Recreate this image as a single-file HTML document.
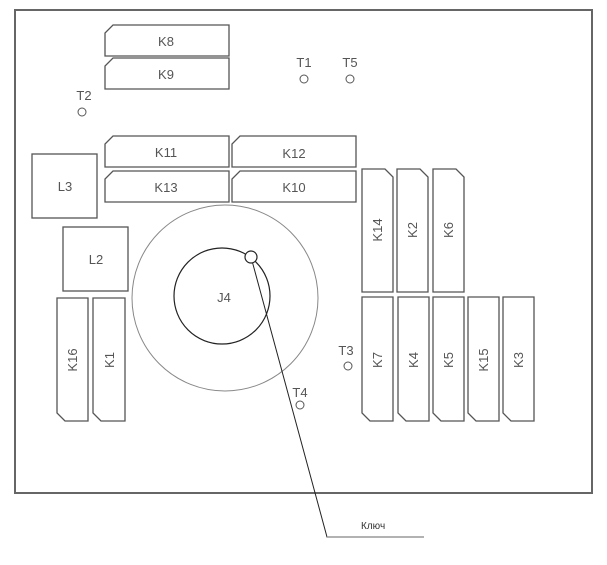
<!DOCTYPE html>
<html><head><meta charset="utf-8"><style>
html,body{margin:0;padding:0;background:#fff;}
svg{display:block;}
text{font-family:"Liberation Sans","DejaVu Sans",sans-serif;fill:#555;font-size:13px;}
</style></head><body>
<svg width="607" height="565" viewBox="0 0 607 565" xmlns="http://www.w3.org/2000/svg">
<rect x="15" y="10" width="577" height="483" fill="none" stroke="#666" stroke-width="2"/>
<g fill="none" stroke="#555" stroke-width="1.3">
<!-- horizontal relays, chamfer top-left -->
<path d="M113,25 H229 V56 H105 V33 Z"/>
<path d="M113,58 H229 V89 H105 V66 Z"/>
<path d="M113,136 H229 V167 H105 V144 Z"/>
<path d="M240,136 H356 V167 H232 V144 Z"/>
<path d="M113,171 H229 V202 H105 V179 Z"/>
<path d="M240,171 H356 V202 H232 V179 Z"/>
<rect x="32" y="154" width="65" height="64"/>
<rect x="63" y="227" width="65" height="64"/>
<!-- vertical left, chamfer bottom-left -->
<path d="M57,298 H88 V421 H65 L57,413 Z"/>
<path d="M93,298 H125 V421 H101 L93,413 Z"/>
<!-- right top, chamfer top-right -->
<path d="M362,169 H385 L393,177 V292 H362 Z"/>
<path d="M397,169 H420 L428,177 V292 H397 Z"/>
<path d="M433,169 H456 L464,177 V292 H433 Z"/>
<!-- right bottom, chamfer bottom-left -->
<path d="M362,297 H393 V421 H370 L362,413 Z"/>
<path d="M398,297 H429 V421 H406 L398,413 Z"/>
<path d="M433,297 H464 V421 H441 L433,413 Z"/>
<path d="M468,297 H499 V421 H476 L468,413 Z"/>
<path d="M503,297 H534 V421 H511 L503,413 Z"/>
</g>
<circle cx="225" cy="298" r="93" fill="none" stroke="#888" stroke-width="1"/>
<circle cx="222" cy="296" r="48" fill="none" stroke="#222" stroke-width="1.2"/>
<g fill="none" stroke="#555" stroke-width="1">
<circle cx="304" cy="79" r="4"/><circle cx="350" cy="79" r="4"/>
<circle cx="82" cy="112" r="4"/><circle cx="348" cy="366" r="4"/>
<circle cx="300" cy="405" r="4"/>
</g>
<polyline points="251,257 327,537 424,537" fill="none" stroke="#222" stroke-width="1"/>
<line x1="327" y1="537" x2="424" y2="537" stroke="#999" stroke-width="1.5"/>
<circle cx="251" cy="257" r="6" fill="#fff" stroke="#222" stroke-width="1.2"/>
<g text-anchor="middle">
<text x="166" y="46">K8</text><text x="166" y="79">K9</text>
<text x="166" y="157">K11</text><text x="294" y="158">K12</text>
<text x="166" y="192">K13</text><text x="294" y="192">K10</text>
<text x="65" y="191">L3</text><text x="96" y="264">L2</text>
<text x="224" y="302">J4</text>
<text x="304" y="67">T1</text><text x="350" y="67">T5</text>
<text x="84" y="100">T2</text><text x="346" y="355">T3</text>
<text x="300" y="397">T4</text>
<text x="196" y="530" style="display:none"></text>
</g>
<g text-anchor="middle">
<text transform="translate(77,360) rotate(-90)">K16</text>
<text transform="translate(114,360) rotate(-90)">K1</text>
<text transform="translate(382,230) rotate(-90)">K14</text>
<text transform="translate(417,230) rotate(-90)">K2</text>
<text transform="translate(453,230) rotate(-90)">K6</text>
<text transform="translate(382,360) rotate(-90)">K7</text>
<text transform="translate(418,360) rotate(-90)">K4</text>
<text transform="translate(453,360) rotate(-90)">K5</text>
<text transform="translate(488,360) rotate(-90)">K15</text>
<text transform="translate(523,360) rotate(-90)">K3</text>
</g>
<text x="361" y="529" style="font-size:10px;fill:#333">Ключ</text>
</svg>
</body></html>
